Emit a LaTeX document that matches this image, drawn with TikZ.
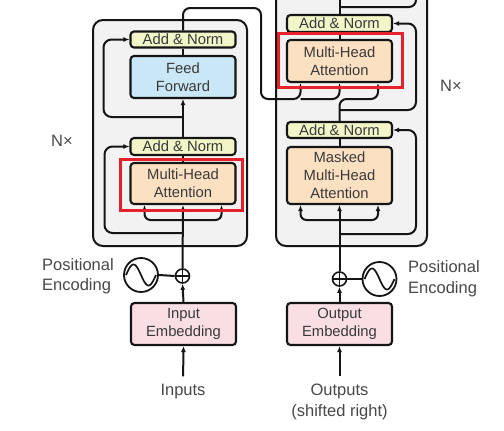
\documentclass[tikz,border=0pt]{standalone}
\usepackage{fontspec}
\setmainfont{Liberation Sans}
\usetikzlibrary{arrows.meta,calc}
\definecolor{anfill}{HTML}{F2F5C8}
\definecolor{fffill}{HTML}{C9E7F6}
\definecolor{mhafill}{HTML}{FCE0C2}
\definecolor{embfill}{HTML}{F9DEE3}
\definecolor{bgfill}{HTML}{F2F2F2}
\definecolor{txt}{HTML}{3A3A3A}
\definecolor{lbl}{HTML}{484848}
\definecolor{hl}{HTML}{E5222B}
\definecolor{ln}{HTML}{151515}
\newcommand{\boxfont}{\fontsize{14.8}{18}\selectfont}
\newcommand{\lblfont}{\fontsize{16.5}{20.5}\selectfont}
\tikzset{
  blk/.style={draw=ln, line width=2.1pt, rounded corners=3.5pt, minimum width=105pt,
    inner sep=0pt, align=center, font=\boxfont, text=txt},
  addnorm/.style={blk, fill=anfill, minimum height=16pt},
  attn/.style={blk, fill=mhafill},
  ffwd/.style={blk, fill=fffill},
  emb/.style={blk, fill=embfill, minimum height=42pt},
  stack/.style={draw=ln, line width=2pt, rounded corners=10pt, fill=bgfill},
  hlbox/.style={draw=hl, line width=3.5pt},
  lbl/.style={font=\lblfont, text=lbl, inner sep=0pt},
  conn/.style={draw=ln, line width=2pt},
  arr/.style={conn, -{Latex[length=6pt,width=5pt]}},
  sinc/.style={circle, draw=ln, line width=1.8pt, minimum size=34pt, inner sep=0pt},
  plusc/.style={circle, draw=ln, line width=1.6pt, minimum size=14pt, inner sep=0pt},
}
\begin{document}
\begin{tikzpicture}[x=1pt,y=-1pt]
\useasboundingbox (0,0) rectangle (504,431);
\clip (0,0) rectangle (504,431);
\fill[white] (0,0) rectangle (504,431);

% stacks
\draw[stack] (93,20) rectangle (247,246);
\draw[stack] (276,-20) rectangle (427,246);

% encoder blocks
\node[addnorm] (an1) at (183,39.5) {Add \& Norm};
\node[ffwd, minimum height=42pt] (ff) at (183,77) {Feed\\Forward};
\node[addnorm, minimum height=17pt] (an2) at (183,146.5) {Add \& Norm};
\node[attn, minimum height=41pt] (mha) at (183,183.5) {Multi-Head\\Attention};

% decoder blocks
\node[addnorm, minimum height=17pt] (dan1) at (339.5,23.5) {Add \& Norm};
\node[attn, minimum height=42pt] (dmha) at (339.5,61) {Multi-Head\\Attention};
\node[addnorm] (dan2) at (339.5,130) {Add \& Norm};
\node[attn, minimum height=57pt] (mmha) at (339.5,175.5) {Masked\\Multi-Head\\Attention};

% embeddings
\node[emb] (inemb) at (183.5,324) {Input\\Embedding};
\node[emb] (outemb) at (339.5,324) {Output\\Embedding};

% positional encodings
\node[plusc] (plusL) at (182.5,276) {};
\draw[conn, line width=1.4pt] (plusL.west) -- (plusL.east) (plusL.north) -- (plusL.south);
\node[plusc] (plusR) at (339.5,279) {};
\draw[conn, line width=1.4pt] (plusR.west) -- (plusR.east) (plusR.north) -- (plusR.south);
\node[sinc] (sinL) at (141,275) {};
\node[sinc] (sinR) at (379.5,279) {};
\draw[conn, line width=1.7pt] plot[domain=-15:15, samples=41] ({141+\x},{275+10.5*sin(\x*180/15)});
\draw[conn, line width=1.7pt] plot[domain=-15:15, samples=41] ({379.5+\x},{279+10.5*sin(\x*180/15)});

% labels
\node[lbl, align=left, anchor=west] (peL) at (42,276) {Positional\\Encoding};
\node[lbl, align=left, anchor=west] (peR) at (408,278.5) {Positional\\Encoding};
\node[lbl] (inputs) at (183,392) {Inputs};
\node[lbl, align=center] (outputs) at (339.5,402) {Outputs\\(shifted right)};
\node[lbl] (nxL) at (62,141) {N×};
\node[lbl] (nxR) at (451,86) {N×};

% branch coordinates
\coordinate (er1) at (183,233);
\coordinate (el1) at (183,220);
\coordinate (er2) at (183,117);
\coordinate (dr1) at (339.5,234);
\coordinate (dl1) at (339.5,220);
\coordinate (dr2) at (339.5,110);
\coordinate (dr3) at (339.5,7);
\coordinate (ekv) at (300.5,99);
\coordinate (dtop) at (339.5,-10);
\coordinate (rtop) at (416,-10);

% encoder connectors
\draw[arr] (inputs.north) [shorten <=8pt] -- (inemb.south);
\draw[arr] (inemb.north) -- (plusL.south);
\draw[conn] (sinL.east) -- (plusL.west);
\draw[arr] (plusL.north) -- (mha.south);
\draw[arr, rounded corners=6pt] (el1) -| ([xshift=-38.5pt]mha.south);
\draw[arr, rounded corners=6pt] (el1) -| ([xshift=38.5pt]mha.south);
\draw[arr, rounded corners=8pt] (er1) -- (104.5,233) |- (an2.west);
\draw[conn] (mha.north) -- (an2.south);
\draw[arr] (an2.north) -- (ff.south);
\draw[arr, rounded corners=8pt] (er2) -- (103.5,117) |- (an1.west);
\draw[conn] (ff.north) -- (an1.south);
\draw[arr, rounded corners=7pt] (an1.north) |- (261,8) -- (261,99) -| ([xshift=-39pt]dmha.south);
\draw[arr, rounded corners=7pt] (ekv) -| (dmha.south);

% decoder connectors
\draw[arr] (outputs.north) [shorten <=8pt] -- (outemb.south);
\draw[arr] (outemb.north) -- (plusR.south);
\draw[conn] (plusR.east) -- (sinR.west);
\draw[arr] (plusR.north) -- (mmha.south);
\draw[arr, rounded corners=6pt] (dl1) -| ([xshift=-39pt]mmha.south);
\draw[arr, rounded corners=6pt] (dl1) -| ([xshift=38.5pt]mmha.south);
\draw[arr, rounded corners=8pt] (dr1) -- (416,234) |- (dan2.east);
\draw[conn] (mmha.north) -- (dan2.south);
\draw[arr, rounded corners=7pt] (dan2.north) -- (339.5,99) -| ([xshift=38.5pt]dmha.south);
\draw[arr, rounded corners=8pt] (dr2) -- (416,110) |- (dan1.east);
\draw[conn] (dmha.north) -- (dan1.south);
\draw[conn] (dan1.north) -- (dtop);
\draw[conn, rounded corners=7pt] (dr3) -| (rtop);

% highlight boxes
\draw[hlbox] (120.5,159.5) rectangle (242.5,210.5);
\draw[hlbox] (278.5,33.5) rectangle (402.5,87.5);
\end{tikzpicture}
\end{document}
